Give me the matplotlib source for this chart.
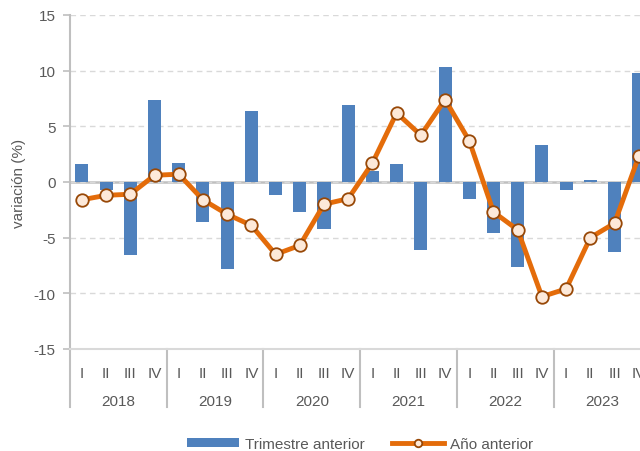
import matplotlib.pyplot as plt
import matplotlib.transforms as mtransforms
import numpy as np

years = ["2018", "2019", "2020", "2021", "2022", "2023"]
quarters = ["I", "II", "III", "IV"]

trimestre_anterior = [1.6, -0.7, -6.6, 7.4,
                      1.7, -3.6, -7.8, 6.4,
                      -1.2, -2.7, -4.2, 6.9,
                      1.0, 1.6, -6.1, 10.3,
                      -1.5, -4.6, -7.6, 3.3,
                      -0.7, 0.15, -6.3, 9.8]
anio_anterior = [-1.6, -1.2, -1.1, 0.6,
                 0.7, -1.6, -2.9, -3.9,
                 -6.5, -5.7, -2.0, -1.5,
                 1.7, 6.2, 4.2, 7.4,
                 3.7, -2.7, -4.3, -10.3,
                 -9.6, -5.0, -3.7, 2.3]

blue = "#4F81BD"
orange = "#E46C0A"
grey = "#595959"
axis_grey = "#BFBFBF"
fs = 11

plt.rcParams['font.family'] = ['Liberation Sans', 'DejaVu Sans']
plt.rcParams['axes.unicode_minus'] = False

fig = plt.figure(figsize=(6.4, 4.52), dpi=100)
ax = fig.add_axes([0.109, 0.2257, 0.908, 0.739])

x = np.arange(len(trimestre_anterior))
bars = ax.bar(x, trimestre_anterior, width=0.54, color=blue, zorder=2)
line, = ax.plot(x, anio_anterior, color=orange, lw=3.5, marker="o", markersize=9,
                markerfacecolor="#FDE9D9", markeredgecolor="#984807", markeredgewidth=1.3,
                zorder=3)

ax.set_xlim(-0.5, len(x) - 0.5)
ax.set_ylim(-15, 15)
ax.set_yticks(np.arange(-15, 16, 5))
ax.yaxis.grid(True, color="#D9D9D9", linestyle=(0, (4, 3)), lw=1, zorder=0)
ax.axhline(0, color=axis_grey, lw=1.8, zorder=1)

for s in ["top", "right"]:
    ax.spines[s].set_visible(False)
ax.spines["left"].set_color(axis_grey)
ax.spines["left"].set_linewidth(1.5)
ax.spines["bottom"].set_color("#D9D9D9")
ax.spines["bottom"].set_linewidth(1.5)
ax.tick_params(axis="y", colors=axis_grey, labelcolor=grey, labelsize=fs, length=5, width=1.2, pad=5)

ax.set_xticks(x)
ax.set_xticklabels(quarters * len(years), color=grey, fontsize=fs)
ax.tick_params(axis="x", length=0, pad=12)

ax.set_ylabel("variación (%)", color=grey, fontsize=fs, labelpad=6)

# year labels and separators below the axis
trans = mtransforms.blended_transform_factory(ax.transData, ax.transAxes)
for i, yr in enumerate(years):
    ax.text(i * 4 + 1.5, -0.155, yr, transform=trans, ha="center", va="center",
            color=grey, fontsize=fs)
for i in range(len(years) + 1):
    ax.plot([i * 4 - 0.5, i * 4 - 0.5], [0, -0.175], transform=trans, color=axis_grey,
            lw=1.5, clip_on=False)

fig.legend([bars, line], ["Trimestre anterior", "Año anterior"],
           loc="lower center", bbox_to_anchor=(0.563, -0.03), ncol=2, frameon=False,
           fontsize=fs, handlelength=3.4, handleheight=0.5, handletextpad=0.4,
           columnspacing=1.8, labelcolor=grey, markerscale=0.6)

fig.savefig("out.png", dpi=100)
